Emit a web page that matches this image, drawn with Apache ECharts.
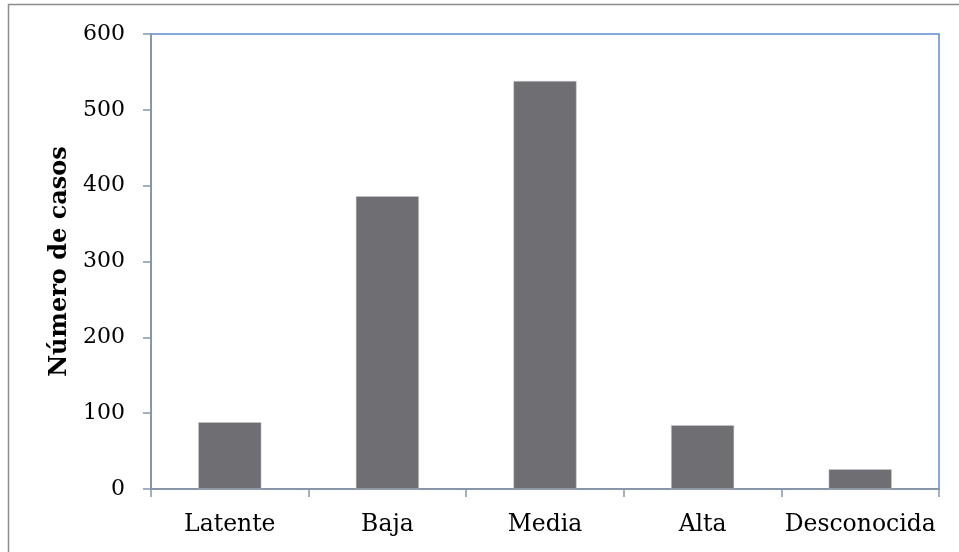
<!DOCTYPE html>
<html>
<head>
<meta charset="utf-8">
<script src="https://cdn.jsdelivr.net/npm/echarts@6/dist/echarts.min.js"></script>
<style>
html,body{margin:0;padding:0;background:#fff;}
#chart{width:959px;height:552px;}
</style>
</head>
<body>
<div id="chart"></div>
<script>
var categories = ['Latente', 'Baja', 'Media', 'Alta', 'Desconocida'];
var casos = [88, 386, 538, 84, 26];
var yTicks = [0, 100, 200, 300, 400, 500, 600];

var chart = echarts.init(document.getElementById('chart'));
var serif = "'DejaVu Serif', serif";
chart.setOption({
  backgroundColor: '#fff',
  animation: false,
  graphic: [{
    type: 'rect', z: -10,
    shape: {x: 8.5, y: 4.5, width: 980, height: 600},
    style: {fill: 'none', stroke: '#8c8c8c', lineWidth: 1.5}
  }],
  grid: {left: 151, top: 34, right: 20, bottom: 63, show: true, borderColor: '#5b8ccf', borderWidth: 1.5, backgroundColor: 'transparent'},
  xAxis: {
    type: 'category',
    data: categories,
    axisLine: {show: true, lineStyle: {color: '#8896aa', width: 2}},
    axisTick: {show: true, length: 8, lineStyle: {color: '#8896aa', width: 1.5}},
    axisLabel: {fontFamily: serif, fontSize: 23.5, color: '#000', margin: 24, interval: 0}
  },
  yAxis: {
    type: 'value',
    min: yTicks[0], max: yTicks[yTicks.length - 1], interval: 100,
    name: 'Número de casos',
    nameLocation: 'middle',
    nameGap: 78,
    nameTextStyle: {fontFamily: serif, fontSize: 24, fontWeight: 'bold', color: '#000'},
    axisLine: {show: true, lineStyle: {color: '#8896aa', width: 2}},
    axisTick: {show: true, length: 8, lineStyle: {color: '#8896aa', width: 1.5}},
    splitLine: {show: false},
    axisLabel: {fontFamily: serif, fontSize: 22, color: '#000', margin: 26}
  },
  series: [{
    type: 'bar',
    data: casos,
    barWidth: '40%',
    itemStyle: {color: '#6f6e73', borderColor: '#c8c8cc', borderWidth: 0.5}
  }]
});
</script>
</body>
</html>
